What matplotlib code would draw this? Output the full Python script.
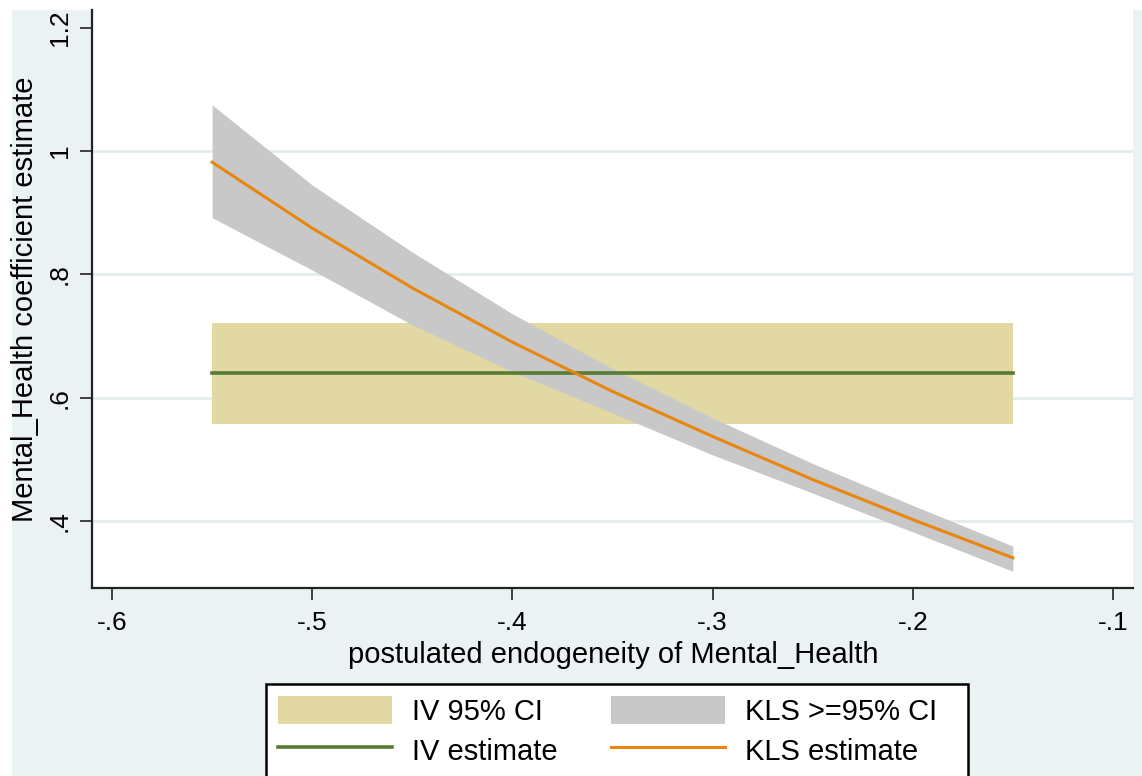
import matplotlib
matplotlib.use("Agg")
import matplotlib.pyplot as plt
from matplotlib.patches import Rectangle, Patch
from matplotlib.lines import Line2D

plt.rcParams['font.family'] = ['Liberation Sans', 'DejaVu Sans']

# Postulated endogeneity grid and KLS estimates with their confidence band
endog = [-0.55, -0.50, -0.45, -0.40, -0.35, -0.30, -0.25, -0.20, -0.15]
kls_est = [0.982, 0.875, 0.778, 0.690, 0.610, 0.537, 0.467, 0.402, 0.340]
kls_hi = [1.075, 0.945, 0.836, 0.736, 0.647, 0.567, 0.493, 0.425, 0.359]
kls_lo = [0.892, 0.807, 0.718, 0.642, 0.575, 0.507, 0.445, 0.382, 0.318]

# IV estimate and its 95% confidence interval
iv_est = 0.640
iv_lo = 0.557
iv_hi = 0.721

xticks = [-0.6, -0.5, -0.4, -0.3, -0.2, -0.1]
xticklabels = ['-.6', '-.5', '-.4', '-.3', '-.2', '-.1']
yticks = [0.4, 0.6, 0.8, 1.0, 1.2]
yticklabels = ['.4', '.6', '.8', '1', '1.2']
grid_levels = [0.4, 0.6, 0.8, 1.0]

W, H = 1142, 776
BG = '#EAF2F3'
C_IVCI = '#E2D8A4'
C_KLSCI = '#C8C8C8'
C_IV = '#587B35'
C_KLS = '#E8860F'

fig = plt.figure(figsize=(W / 100, H / 100), dpi=100, facecolor='white')
fig.patches.append(Rectangle((12 / W, 0), 1, (H - 10) / H, transform=fig.transFigure,
                             facecolor=BG, edgecolor='none', zorder=-5))

ax = fig.add_axes([92 / W, (H - 588) / H, (1133 - 92) / W, (588 - 10) / H])
ax.set_zorder(2)
ax.set_facecolor('white')
ax.set_xlim(-0.61, -0.09)
ax.set_ylim(0.291, 1.229)

for g in grid_levels:
    ax.axhline(g, color='#E3ECEF', lw=2.0, zorder=1)

ax.fill_between([endog[0], endog[-1]], [iv_lo, iv_lo], [iv_hi, iv_hi],
                color=C_IVCI, lw=0, zorder=2)
ax.fill_between(endog, kls_lo, kls_hi, color=C_KLSCI, lw=0, zorder=3)
ax.plot([endog[0], endog[-1]], [iv_est, iv_est], color=C_IV, lw=2.6, zorder=4)
ax.plot(endog, kls_est, color=C_KLS, lw=2.2, zorder=5)

for side in ('top', 'right'):
    ax.spines[side].set_visible(False)
for side in ('left', 'bottom'):
    ax.spines[side].set_color('#222222')
    ax.spines[side].set_linewidth(1.6)

ax.set_xticks(xticks)
ax.set_xticklabels(xticklabels, fontsize=19)
ax.set_yticks(yticks)
ax.set_yticklabels(yticklabels, fontsize=19, rotation=90, va='center')
ax.tick_params(axis='both', length=8.5, width=1.2, color='#222222')
ax.tick_params(axis='x', pad=8)
ax.tick_params(axis='y', pad=6)

fig.text(613 / W, (H - 655) / H, 'postulated endogeneity of Mental_Health',
         ha='center', va='center', fontsize=21)
fig.text(25 / W, (H - 299) / H, 'Mental_Health coefficient estimate',
         ha='center', va='center', rotation=90, fontsize=21)

# Legend frame, open at the bottom edge of the figure
fig.patches.append(Rectangle((266 / W, -0.05), (968 - 266) / W, (H - 684) / H + 0.05,
                             transform=fig.transFigure, facecolor='white',
                             edgecolor='black', lw=1.8, zorder=1))

handles = [Patch(facecolor=C_IVCI, edgecolor='none'),
           Line2D([], [], color=C_IV, lw=2.6),
           Patch(facecolor=C_KLSCI, edgecolor='none'),
           Line2D([], [], color=C_KLS, lw=2.2)]
labels = ['IV 95% CI', 'IV estimate', 'KLS >=95% CI', 'KLS estimate']
leg = fig.legend(handles, labels, ncol=2, loc='upper left',
                 bbox_to_anchor=(278 / W, (H - 696) / H), frameon=False,
                 fontsize=21, handlelength=3.9, handleheight=1.12,
                 handletextpad=0.68, columnspacing=1.85, labelspacing=0.32,
                 borderpad=0, borderaxespad=0)
leg.set_zorder(5)

fig.savefig('out.png', dpi=100, facecolor=fig.get_facecolor())
